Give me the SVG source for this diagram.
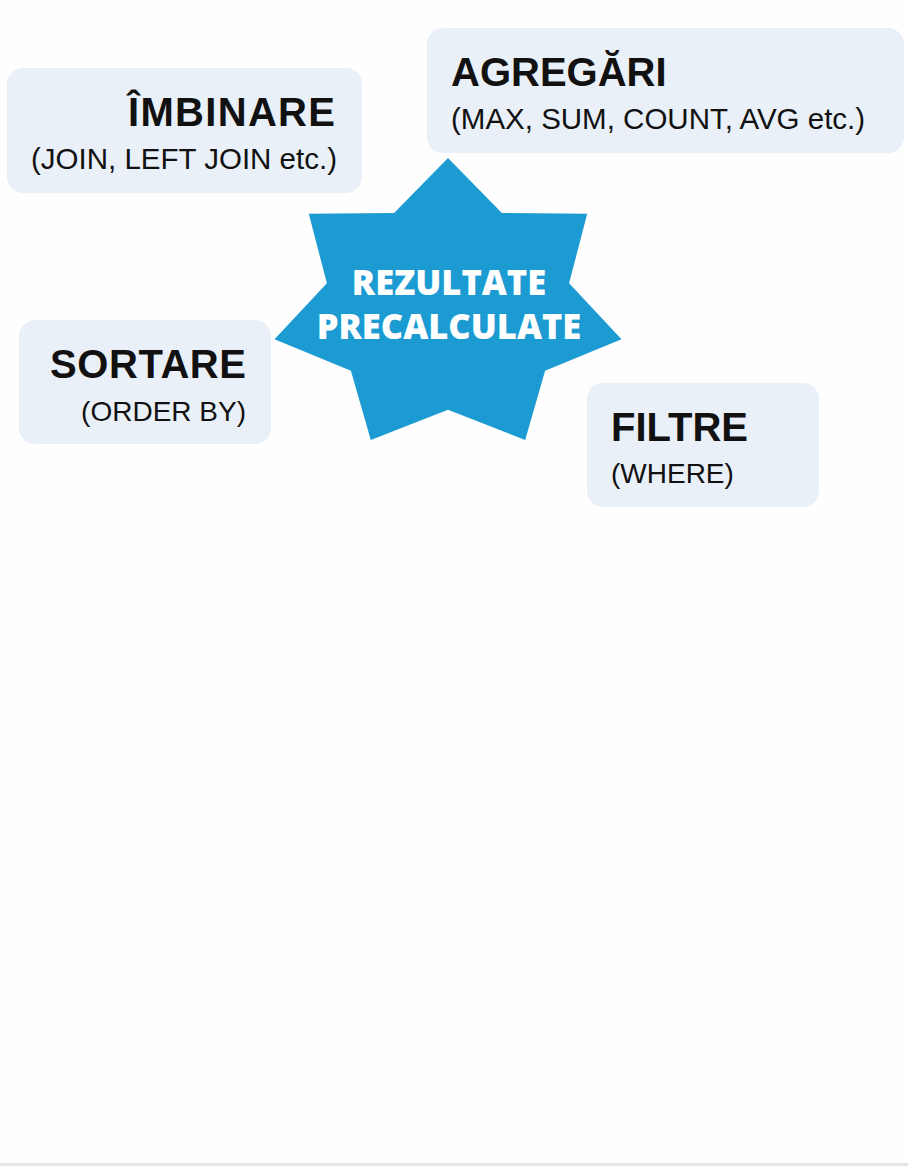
<svg xmlns="http://www.w3.org/2000/svg" width="908" height="1166" viewBox="0 0 908 1166">
<style>
.box{fill:#eaf0f8;}
.t{font-family:"Liberation Sans",Arial,sans-serif;font-weight:bold;font-size:40px;fill:#111;}
.s{font-family:"Liberation Sans",Arial,sans-serif;font-size:28px;fill:#111;}
.c{font-family:"Open Sans","Noto Sans",sans-serif;font-weight:800;font-size:34.5px;fill:#fff;text-anchor:middle;}
</style>
<rect width="908" height="1166" fill="#fefefe"/>
<rect x="0" y="1163" width="908" height="3" fill="#e6e6e6"/>
<g id="connectors"/>
<g id="star">
<polygon points="448,158 501.9,213 587.2,213.8 569.1,283.3 621.5,339.3 545.1,370.8 525.2,439.9 448,409.8 370.8,439.9 350.9,370.8 274.5,339.3 326.9,283.3 308.8,213.8 394.1,213" fill="#1c9bd3"/>
<text class="c" x="449" y="295">REZULTATE</text>
<text class="c" x="449" y="339">PRECALCULATE</text>
</g>
<g id="imbinare">
<rect class="box" x="7" y="68" width="355" height="125" rx="16"/>
<text class="t" x="335" y="126" text-anchor="end" textLength="207">ÎMBINARE</text>
<text class="s" x="337" y="169" text-anchor="end" style="font-size:29.5px">(JOIN, LEFT JOIN etc.)</text>
</g>
<g id="agregari">
<rect class="box" x="427" y="28" width="477" height="125" rx="16"/>
<text class="t" x="451" y="86">AGREGĂRI</text>
<text class="s" x="451" y="129" style="font-size:29.5px">(MAX, SUM, COUNT, AVG etc.)</text>
</g>
<g id="sortare">
<rect class="box" x="19" y="320" width="252" height="124" rx="16"/>
<text class="t" x="246" y="378" text-anchor="end" textLength="196">SORTARE</text>
<text class="s" x="246" y="421" text-anchor="end">(ORDER BY)</text>
</g>
<g id="filtre">
<rect class="box" x="587" y="383" width="232" height="124" rx="16"/>
<text class="t" x="611" y="441">FILTRE</text>
<text class="s" x="611" y="483">(WHERE)</text>
</g>
</svg>
